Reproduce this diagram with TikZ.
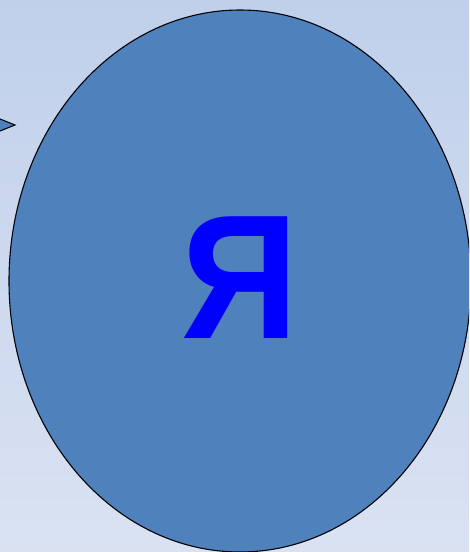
\documentclass[tikz,border=0pt]{standalone}
\usepackage{fontspec}
\setmainfont{Liberation Sans}
\definecolor{bgtop}{RGB}{192,208,235}
\definecolor{bgbot}{RGB}{218,226,242}
\definecolor{ellblue}{RGB}{79,129,189}
\definecolor{letterblue}{RGB}{0,0,255}
\tikzset{
  shapeedge/.style={draw=black, line width=1.1pt, fill=ellblue},
  bigletter/.style={text=letterblue, font=\fontsize{177}{177}\selectfont\bfseries, inner sep=0pt, anchor=base, xscale=0.92}
}
\begin{document}
\begin{tikzpicture}[x=1pt,y=-1pt]
\useasboundingbox (0,0) rectangle (469,552);
\shade[top color=bgtop, bottom color=bgbot] (0,0) rectangle (469,552);
\begin{scope}
\clip (0,0) rectangle (469,552);
\draw[shapeedge, line join=miter] (-10,115) -- (15,125) -- (-10,135) -- cycle;
\draw[shapeedge] (240,281) ellipse [x radius=231, y radius=271];
\end{scope}
\node[bigletter] (ya) at (240.5,338) {Я};
\end{tikzpicture}
\end{document}
